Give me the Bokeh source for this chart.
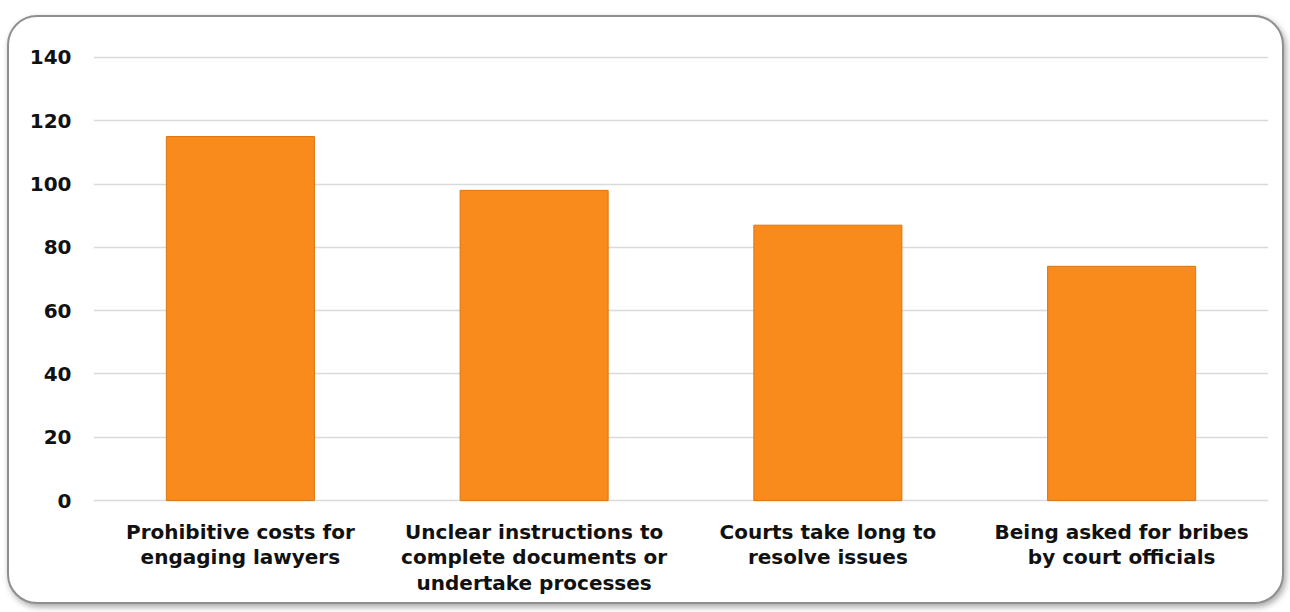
from bokeh.plotting import figure
from bokeh.models import Range1d, FactorRange, FixedTicker
from bokeh.embed import file_html
from bokeh.resources import INLINE

categories = [
    "Prohibitive costs for\nengaging lawyers",
    "Unclear instructions to\ncomplete documents or\nundertake processes",
    "Courts take long to\nresolve issues",
    "Being asked for bribes\nby court officials",
]
values = [115, 98, 87, 74]
y_ticks = [0, 20, 40, 60, 80, 100, 120, 140]

p = figure(
    x_range=FactorRange(*categories, range_padding=0),
    y_range=Range1d(-0.6, 140.6),
    width=1277, height=589,
    output_backend="svg", toolbar_location=None,
    min_border_left=84, min_border_right=18,
    min_border_top=38, min_border_bottom=104,
)
p.styles = {
    "margin-left": "7px", "margin-top": "15px",
    "border": "2px solid #8f8f8f", "border-radius": "30px",
    "box-shadow": "2px 3px 6px rgba(0,0,0,0.35)",
    "background-color": "white", "overflow": "hidden",
}
p.border_fill_color = None
p.background_fill_color = None
p.outline_line_color = None

p.vbar(x=categories, top=values, width=0.504, bottom=0,
       fill_color="#F98B1C", line_color="#DC740F", line_width=1)

p.xgrid.grid_line_color = None
p.ygrid.grid_line_color = "#dadada"
p.ygrid.grid_line_width = 1.5
p.yaxis.ticker = FixedTicker(ticks=y_ticks)

for ax in (p.xaxis, p.yaxis):
    ax.axis_line_color = None
    ax.major_tick_line_color = None
    ax.minor_tick_line_color = None
    ax.major_label_text_font = "DejaVu Sans"
    ax.major_label_text_font_style = "bold"
    ax.major_label_text_font_size = "20px"
    ax.major_label_text_color = "#111111"

p.yaxis.major_label_standoff = 16
p.xaxis.major_label_standoff = 11
p.xaxis.major_label_text_line_height = 1.08

open("out.html", "w").write(file_html(p, INLINE))
